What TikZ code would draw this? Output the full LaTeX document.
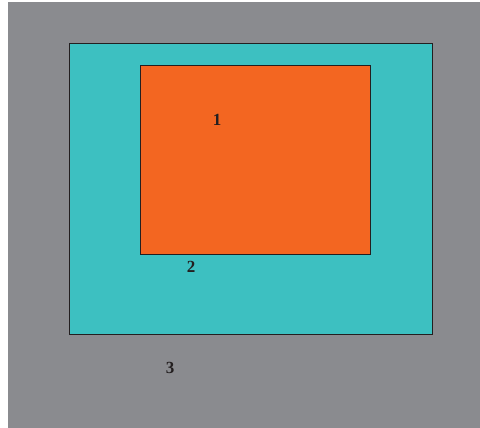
\documentclass[tikz,border=0pt]{standalone}
\usepackage{fontspec}
\setmainfont{Liberation Serif}
\definecolor{bggray}{HTML}{8A8B8F}
\definecolor{cyanfill}{HTML}{3DC0C1}
\definecolor{orangefill}{HTML}{F36621}
\definecolor{edge}{HTML}{231F20}
\begin{document}
\begin{tikzpicture}[x=1pt,y=-1pt,
  region/.style={draw=edge,line width=1pt},
  lbl/.style={font=\fontsize{17}{17}\selectfont\bfseries,text=edge,inner sep=0pt}]
\useasboundingbox (0,0) rectangle (480,428);
\fill[white] (0,0) rectangle (480,428);
\fill[bggray] (8,2) rectangle (480,428);
\draw[region,fill=cyanfill] (69,44) rectangle (432,334);
\draw[region,fill=orangefill] (140,66) rectangle (370,254);
\node[lbl] (l1) at (217,120) {1};
\node[lbl] (l2) at (191,267) {2};
\node[lbl] (l3) at (170,368) {3};
\end{tikzpicture}
\end{document}
